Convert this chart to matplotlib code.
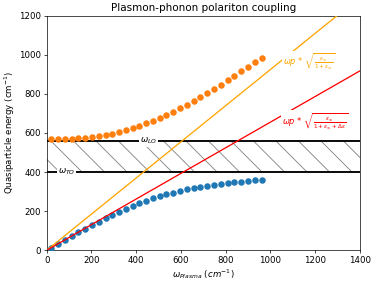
import matplotlib
matplotlib.use('Agg')
import matplotlib.pyplot as plt

# plasma frequency (cm^-1) and the two coupled modes
wp = [20, 50, 81, 111, 141, 172, 202, 232, 263, 293, 323, 354, 384, 414, 445, 475,
      505, 535, 566, 596, 626, 657, 687, 717, 748, 778, 808, 839, 869, 899, 930, 960]
upper = [567, 567, 568, 570, 572, 575, 579, 584, 590, 597, 605, 615, 625, 636, 649, 662,
         677, 692, 709, 726, 745, 764, 784, 804, 826, 848, 870, 893, 916, 939, 963, 982]
lower = [13, 33, 53, 73, 92, 111, 129, 147, 165, 182, 198, 213, 227, 241, 254, 265,
         276, 286, 295, 304, 311, 318, 324, 330, 335, 340, 344, 348, 351, 354, 357, 359]

# screened plasma lines
line_x = [0, 1400]
line_inf = [0, 1295]   # wp * sqrt(eps_inf / (1 + eps_inf))
line_s = [0, 918]      # wp * sqrt(eps_inf / (1 + eps_inf + d_eps))

w_to = 400
w_lo = 560

k = 0.461  # scale from default point sizes
plt.rcParams.update({
    'font.size': 10 * k,
    'axes.titlesize': 12 * k,
    'axes.linewidth': 0.8 * k,
    'xtick.major.size': 3.5 * k,
    'ytick.major.size': 3.5 * k,
    'xtick.major.width': 0.8 * k,
    'ytick.major.width': 0.8 * k,
    'xtick.major.pad': 3.5 * k,
    'ytick.major.pad': 3.5 * k,
    'axes.labelpad': 2 * k,
    'axes.titlepad': 6 * k,
    'hatch.linewidth': 0.45,
})

fig, ax = plt.subplots(figsize=(373 / 135, 281 / 135), dpi=135)
fig.subplots_adjust(left=0.1252, right=0.9651, bottom=0.1093, top=0.9441)

ax.axhspan(w_to, w_lo, facecolor='none', edgecolor='gray', hatch='\\\\', linewidth=0)

ax.scatter(wp, lower, s=12, color='#1f77b4', zorder=3, linewidths=0)
ax.scatter(wp, upper, s=12, color='#ff7f0e', zorder=3, linewidths=0)

ax.plot(line_x, line_inf, color='orange', lw=1.5 * k, zorder=4)
ax.plot(line_x, line_s, color='red', lw=1.5 * k, zorder=4)

ax.axhline(w_lo, color='black', lw=1.0, zorder=2)
ax.axhline(w_to, color='black', lw=1.0, zorder=2)

box = dict(facecolor='white', edgecolor='none', pad=0.6)
ax.text(455, w_lo, r'$\omega_{LO}$', ha='center', va='center', bbox=box, zorder=5)
ax.text(88, w_to, r'$\omega_{TO}$', ha='center', va='center', bbox=box, zorder=5)
ax.text(1056, 963, r'$\omega p$ * $\sqrt{\frac{\epsilon_\infty}{1+\epsilon_\infty}}$',
        color='orange', fontsize=4.4, ha='left', va='center', bbox=box, zorder=5)
ax.text(1051, 658, r'$\omega p$ * $\sqrt{\frac{\epsilon_\infty}{1+\epsilon_\infty+\Delta\epsilon}}$',
        color='red', fontsize=4.4, ha='left', va='center', bbox=box, zorder=5)

ax.set_xlim(0, 1400)
ax.set_ylim(0, 1200)
ax.set_title('Plasmon-phonon polariton coupling')
ax.set_xlabel(r'$\omega_{Plasma}$ $(cm^{-1})$')
ax.set_ylabel('Quasiparticle energy (cm$^{-1}$)')

fig.savefig('out.png', dpi=135)
